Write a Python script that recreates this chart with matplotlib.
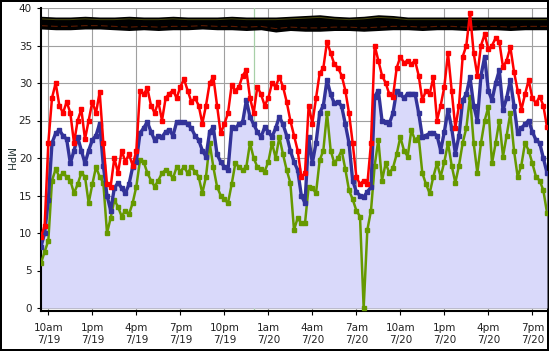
import numpy as np
import matplotlib
matplotlib.use('Agg')
import matplotlib.pyplot as plt

# Data: hours after 9:30am 7/19, one reading every 15 minutes
STEP_H = 0.25

gust = [9.5, 11, 22, 28,   30, 27, 26, 27.5,   26, 22, 25, 26.5,   22.5, 25, 27.5, 26,
        28.8, 22, 16.5, 16.2,   20, 18, 21, 19.5,   20.5, 19, 21, 29,   28.5, 29.3, 27, 26,
        27.5, 25, 28, 28.6,   29, 28, 29.5, 30.5,   29, 27.5, 28, 27,   24.6, 27, 30, 30.8,
        27, 23.3, 24.5, 26,   29.7, 29, 29.5, 31,   31.7, 28, 26, 29.5,   28.5, 27, 28, 30,
        29.5, 30.8, 29.5, 27.5,   25, 23, 21, 17.5,   18, 27, 24.6, 28,   31.3, 32, 35.5, 34,
        32.5, 32, 31, 29,   26, 22, 17.5, 16.5,   17, 16.5, 22, 35,   33, 31, 30, 28.5,
        28.2, 32, 33.5, 32.7,   33, 32.5, 33, 31,   27.7, 29, 28.5, 30.8,   25, 27, 29.5, 34,
        29, 24, 27, 33.5,   35, 39.3, 34, 31,   35, 36.5, 34.5, 35,   36, 35.5, 32.1, 33,
        34.8, 31.5, 29, 26.4,   28.5, 30.4, 28, 27.3,   28.2, 27, 24.1]

avg = [8.2, 10, 14.4, 22,   23.3, 23.7, 23, 22.5,   19.3, 21, 22.8, 21,   19.3, 21, 22.4, 23,
       24.6, 19, 15, 13,   16, 16.7, 16, 15.3,   16.5, 18.8, 19.5, 23.3,   24, 24.8, 23.5, 22.4,
       23, 22.8, 23.5, 23.7,   23, 24.8, 24.8, 24.8,   24.5, 24, 23, 22.4,   21, 20.2, 23.5, 24.1,
       20.5, 19.5, 18.8, 18.4,   24.1, 24, 24.5, 24.8,   27.7, 25.5, 24.5, 23.5,   22.8, 24.1, 23.5, 22.8,
       24, 25.5, 24.5, 23,   21, 19.5, 18.4, 15,   14, 22.8, 19.3, 22,   26, 27, 30.4, 28.5,
       27.3, 27.5, 26.9, 24.5,   22, 17, 15.5, 15,   14.8, 15.5, 16.1, 28.2,   29, 25, 24.8, 24.6,
       26, 29, 28.5, 28,   28.6, 28.6, 28.6, 26,   22.8, 23, 23.3, 23.3,   23, 21, 23.5, 26.4,
       24, 20.6, 23, 27.7,   28.5, 30.8, 27, 25,   31, 33.5, 29, 27.7,   30, 31.7, 26.4, 28,
       30.4, 27, 23.3, 24,   24.5, 25, 23.5, 22.4,   22, 20, 18]

lull = [6, 7.5, 9, 17,   18.5, 17.5, 18, 17.5,   17, 15.3, 16.5, 18,   17.5, 14, 16.5, 18.8,
        17.5, 16.7, 10, 12,   14.4, 13.5, 12.2, 13,   12.5, 14, 16.2, 19.7,   19.5, 18, 17, 16.2,
        17, 18, 18.4, 18,   17.3, 18.8, 18.2, 18.8,   18, 18.8, 18.2, 17.5,   15.3, 17.5, 22, 18.8,
        16.2, 15, 14.5, 14,   16.5, 19.3, 18.8, 18.4,   18.8, 22, 20, 18.8,   18.5, 18.2, 19.5, 22,
        20, 22.8, 20.5, 18.4,   16.7, 10.4, 12, 11.3,   11.3, 16.2, 16, 15.3,   19.7, 21, 26, 21,
        19.3, 20, 21, 18.5,   15.7, 14.5, 13, 12.2,   0, 10.4, 13, 19,   22.4, 17, 19.3, 18,
        18.7, 20.5, 22.8, 21,   20.2, 23.7, 22.4, 22.8,   18, 16.5, 15.3, 17.5,   19.3, 17.5, 19.5, 22,
        19, 16.7, 19, 22,   24, 28.2, 22, 18,   22, 25, 26.8, 19.3,   22, 25, 20.2, 23,
        26, 21, 17.5, 19,   22, 21, 19.3, 17.5,   17, 15.7, 12.7]

# the dark band across the top, hourly upper / lower edges
band_top = [38.9, 38.8, 38.8, 38.9, 38.8, 38.8, 38.9, 38.8, 38.8, 38.9, 38.8, 38.8,
            38.8, 38.9, 38.8, 38.8, 38.8, 38.9, 39.0, 39.1, 38.9, 38.8, 38.9, 39.1,
            39.0, 38.8, 38.8, 38.8, 38.8, 38.8, 38.8, 38.8, 38.8, 38.8, 38.8, 38.8]
band_bot = [37.2, 37.1, 37.1, 37.2, 37.2, 37.1, 37.0, 37.1, 37.0, 37.1, 37.1, 37.2,
            37.1, 37.1, 37.0, 37.1, 36.8, 37.0, 36.9, 36.9, 37.0, 37.0, 36.9, 37.0,
            37.1, 37.1, 37.0, 37.1, 37.1, 37.0, 37.1, 37.1, 37.0, 37.1, 37.1, 37.1]

tick_hours = [0.5, 3.5, 6.5, 9.5, 12.5, 15.5, 18.5, 21.5, 24.5, 27.5, 30.5, 33.5]
tick_labels = ['10am\n7/19', '1pm\n7/19', '4pm\n7/19', '7pm\n7/19', '10pm\n7/19', '1am\n7/20',
               '4am\n7/20', '7am\n7/20', '10am\n7/20', '1pm\n7/20', '4pm\n7/20', '7pm\n7/20']
midnight = 14.5

t = np.arange(len(gust)) * STEP_H
t_band = np.arange(len(band_top)) * 1.0
band_top = np.array(band_top)
band_bot = np.array(band_bot)

fig = plt.figure(figsize=(5.49, 3.51), dpi=100)
fig.patch.set_edgecolor('black')
fig.patch.set_linewidth(1.5)
ax = fig.add_axes([41/549, 40.3/351, 506/549, 302.7/351])

ax.fill_between(t, 0, avg, color='#d9d9fa', lw=0, zorder=1)

for v in range(0, 41, 5):
    ax.axhline(v, color='#a0a0a0', lw=0.8, zorder=0.5)
for h in tick_hours:
    ax.axvline(h, color='#a0a0a0', lw=0.8, zorder=0.5)
ax.axvline(midnight, color='#a8d0a8', lw=0.9, zorder=0.6)

# black band with faint yellow / red streaks in it
ax.fill_between(t_band, band_bot, band_top, color='black', lw=0, zorder=2)
ax.plot(t_band, band_top - 0.35, color='#4a4a10', lw=0.7, zorder=2.1)
ax.plot(t_band, band_bot + 0.45, color='#5a1a00', lw=0.8, ls=(0, (6, 3)), zorder=2.1)

ax.plot(t, lull, color='#669900', lw=1.8, marker='s', ms=2.6, zorder=3)
ax.plot(t, avg, color='#333399', lw=2.4, marker='s', ms=2.6, zorder=4)
ax.plot(t, gust, color='#ff0000', lw=1.8, marker='s', ms=2.6, zorder=5)

ax.set_xlim(0, 34.5)
ax.set_ylim(-0.36, 40)
ax.set_yticks(range(0, 41, 5))
ax.set_xticks(tick_hours)
ax.set_xticklabels(tick_labels)
ax.tick_params(labelsize=7.5, length=3, color='black', labelcolor='#222222')
ax.tick_params(axis='x', pad=6)
ax.set_ylabel('MPH', fontsize=7.5, color='#223333', rotation=270, va='center', ha='center')
ax.yaxis.set_label_coords(-0.064, 0.5)

for s in ['top', 'right']:
    ax.spines[s].set_visible(False)
for s in ['left', 'bottom']:
    ax.spines[s].set_linewidth(1.5)

fig.savefig('out.png', dpi=100)
